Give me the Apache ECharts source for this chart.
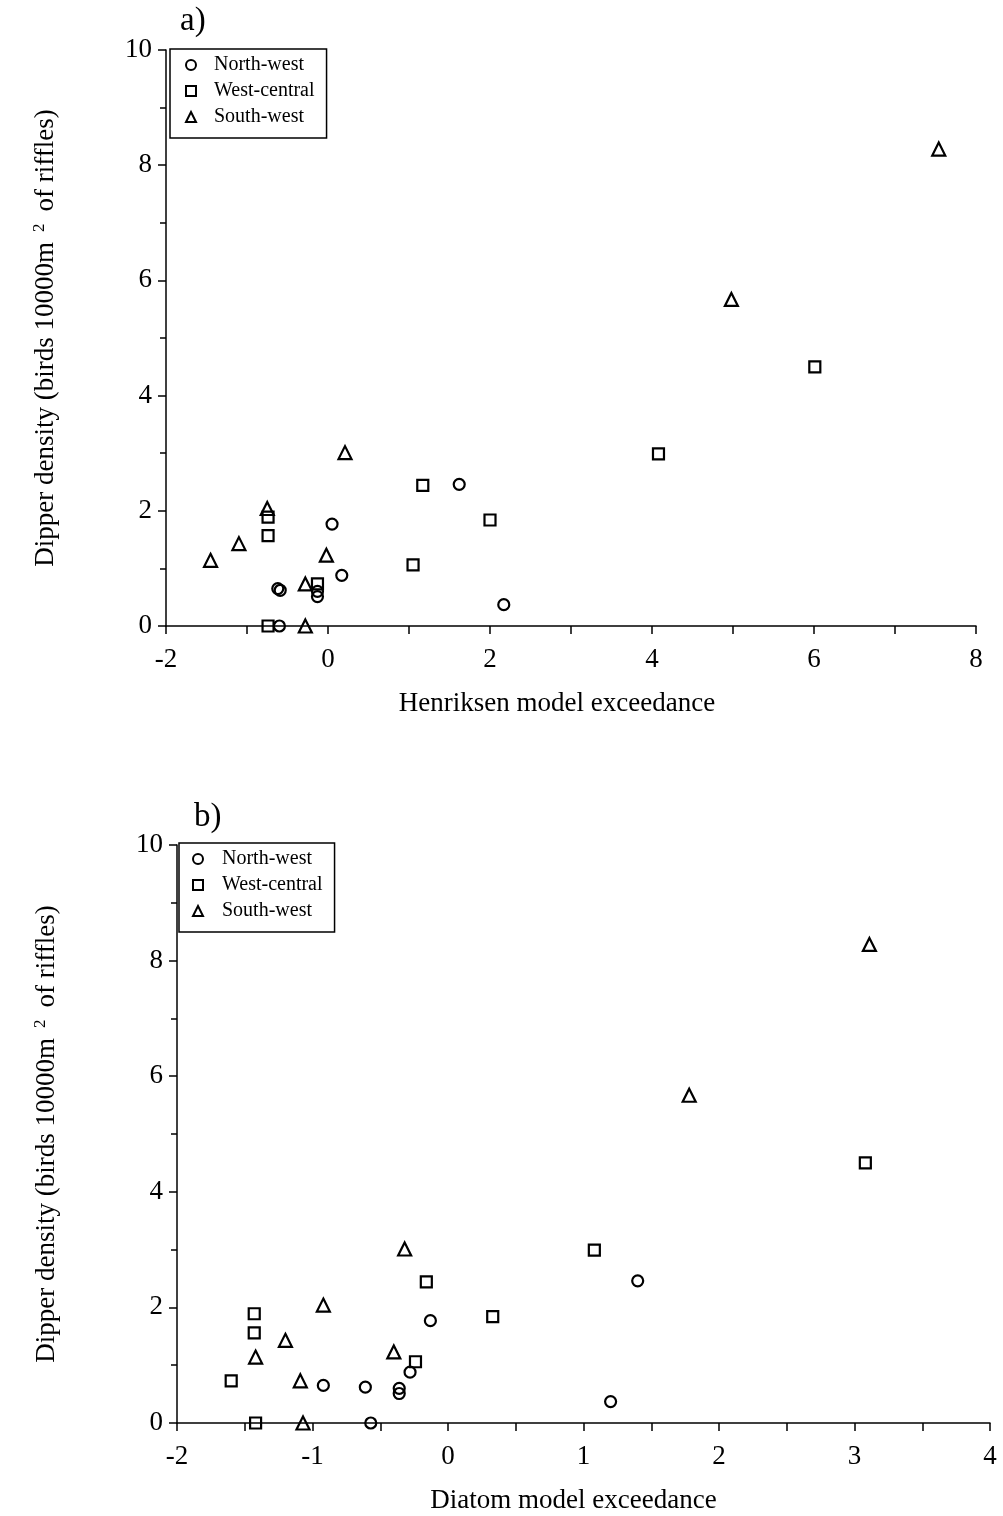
<!DOCTYPE html>
<html><head><meta charset="utf-8">
<script src="https://cdn.jsdelivr.net/npm/echarts@6/dist/echarts.min.js"></script>
<style>html,body{margin:0;padding:0;background:#fff}#c{width:1003px;height:1516px}</style>
</head><body><div id="c"></div>
<script>
const seriesNames = ['North-west', 'West-central', 'South-west'];
const xTitleA = 'Henriksen model exceedance';
const xTitleB = 'Diatom model exceedance';

// Panel a: Henriksen model exceedance vs dipper density
const henNorthWest   = [[-0.62,0.65],[-0.59,0.62],[-0.60,0],[-0.13,0.60],[-0.13,0.51],[0.05,1.77],[0.17,0.88],[1.62,2.46],[2.17,0.37]];
const henWestCentral = [[-0.74,1.89],[-0.74,1.57],[-0.74,0],[-0.13,0.73],[1.05,1.06],[1.17,2.44],[2.00,1.84],[4.08,2.99],[6.01,4.50]];
const henSouthWest   = [[-1.45,1.14],[-1.10,1.43],[-0.75,2.04],[-0.28,0.73],[-0.28,0],[-0.02,1.23],[0.21,3.01],[4.98,5.67],[7.54,8.28]];

// Panel b: Diatom model exceedance vs dipper density
const diaNorthWest   = [[-0.92,0.65],[-0.61,0.62],[-0.36,0.60],[-0.36,0.51],[-0.28,0.88],[-0.13,1.77],[-0.57,0],[1.20,0.37],[1.40,2.46]];
const diaWestCentral = [[-1.43,1.89],[-1.43,1.56],[-1.60,0.73],[-1.42,0],[-0.24,1.06],[-0.16,2.44],[0.33,1.84],[1.08,2.99],[3.08,4.50]];
const diaSouthWest   = [[-1.42,1.14],[-1.20,1.43],[-1.09,0.73],[-1.07,0],[-0.92,2.04],[-0.40,1.23],[-0.32,3.01],[1.78,5.67],[3.11,8.28]];

const FONT = 'Liberation Serif';
const symbols = ['circle', 'rect', 'triangle'];

function xAxis(gi, min, max, name, nameGap, shift){
  return {
    type:'value', gridIndex: gi, min, max, interval: (gi===0?2:1),
    name, nameLocation:'middle', nameGap,
    nameTextStyle:{fontFamily:FONT, fontSize:27, color:'#000', padding:[0, shift, 0, 0]},
    axisLine:{onZero:false, lineStyle:{color:'#000', width:1.5}},
    axisTick:{show:true, length:8, lineStyle:{color:'#000', width:1.5}},
    minorTick:{show:true, splitNumber:2, length:8, lineStyle:{color:'#000', width:1.5}},
    axisLabel:{fontFamily:FONT, fontSize:27, color:'#000', margin:20},
    splitLine:{show:false}, minorSplitLine:{show:false}
  };
}
function yAxis(gi, nameGap){
  return {
    type:'value', gridIndex: gi, min:0, max:10, interval:2,
    name:'Dipper density (birds 10000m{sup|2}of riffles)',
    nameLocation:'middle', nameGap, nameRotate:90,
    nameTextStyle:{fontFamily:FONT, fontSize:27, color:'#000',
      rich:{sup:{fontFamily:FONT, fontSize:17, color:'#000', verticalAlign:'top', padding:[0,12,12,10]}}},
    axisLine:{show:true, onZero:false, lineStyle:{color:'#000', width:1.5}},
    axisTick:{show:true, length:8, lineStyle:{color:'#000', width:1.5}},
    minorTick:{show:true, splitNumber:2, length:6, lineStyle:{color:'#000', width:1.5}},
    axisLabel:{fontFamily:FONT, fontSize:27, color:'#000', margin:14},
    splitLine:{show:false}, minorSplitLine:{show:false}
  };
}
function scat(name, data, gi, sym){
  return {
    type:'scatter', name, data, xAxisIndex:gi, yAxisIndex:gi, symbol:sym, symbolSize: sym==='triangle'?13:11,
    itemStyle:{color:'rgba(255,255,255,0)', borderColor:'#000', borderWidth:2.2, opacity:1},
    emphasis:{disabled:true}, animation:false
  };
}
function legend(left, top, textPad, padL, padR){
  return {
    orient:'vertical', left, top, data: seriesNames,
    itemWidth:10, itemHeight:10, itemGap:6,
    padding:[6,padR,11,padL],
    borderColor:'#000', borderWidth:1.5, backgroundColor:'#fff',
    textStyle:{fontFamily:FONT, fontSize:20, color:'#000', lineHeight:20, padding:[0,0,0,textPad]},
    selectedMode:false
  };
}

const chart = echarts.init(document.getElementById('c'), null, {renderer:'canvas'});
chart.setOption({
  backgroundColor:'#fff',
  animation:false,
  title:[
    {text:'a)', left:175, top:0, textStyle:{fontFamily:FONT, fontSize:33, fontWeight:'normal', color:'#000'}},
    {text:'b)', left:189, top:796, textStyle:{fontFamily:FONT, fontSize:33, fontWeight:'normal', color:'#000'}}
  ],
  grid:[
    {left:166, right:27, top:50, height:576},
    {left:177, right:13, top:845, height:578}
  ],
  legend:[legend(170, 49, 13, 15, 12), legend(179, 843, 14, 13, 12)],
  xAxis:[xAxis(0, -2, 8, xTitleA, 64, 28), xAxis(1, -2, 4, xTitleB, 64, 20)],
  yAxis:[yAxis(0, 106), yAxis(1, 116)],
  series:[
    scat(seriesNames[0], henNorthWest, 0, symbols[0]),
    scat(seriesNames[1], henWestCentral, 0, symbols[1]),
    scat(seriesNames[2], henSouthWest, 0, symbols[2]),
    scat(seriesNames[0], diaNorthWest, 1, symbols[0]),
    scat(seriesNames[1], diaWestCentral, 1, symbols[1]),
    scat(seriesNames[2], diaSouthWest, 1, symbols[2])
  ]
});
</script></body></html>
